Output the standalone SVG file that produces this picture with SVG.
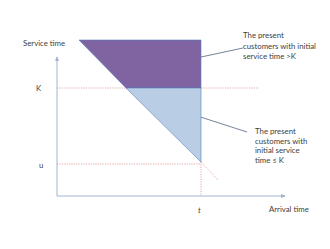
<svg xmlns="http://www.w3.org/2000/svg" width="330" height="249" viewBox="0 0 330 249">
<defs>
<style>
text{font-family:Lato,"Open Sans","Liberation Sans",sans-serif;font-size:7.8px;fill:#404040}
.ax{stroke:#A0B4D2;stroke-width:1;fill:none}
.dot{stroke:#D99694;stroke-width:0.8;stroke-dasharray:1.2 1.2;fill:none}
.lead{stroke:#3B4F6E;stroke-width:0.7;fill:none}
</style>
<marker id="ar" viewBox="0 0 6 6" refX="5" refY="3" markerWidth="5" markerHeight="5" orient="auto">
<path d="M0,0.5 L6,3 L0,5.5 z" fill="#A0B4D2"/>
</marker>
</defs>
<rect width="330" height="249" fill="#fff"/>
<g id="connectors">
<line class="ax" x1="57" y1="196" x2="57" y2="57" marker-end="url(#ar)"/>
<line class="ax" x1="57" y1="196" x2="285" y2="196" marker-end="url(#ar)"/>
<line class="dot" x1="57" y1="88" x2="259" y2="88"/>
<line class="dot" x1="57" y1="164" x2="201" y2="164"/>
<line class="dot" x1="201" y1="162" x2="201" y2="196"/>
<line class="dot" x1="201" y1="162" x2="218" y2="180"/>
<line class="lead" x1="187" y1="60" x2="243" y2="48"/>
<line class="lead" x1="185" y1="112" x2="247" y2="132"/>
</g>
<g id="upper-region">
<polygon points="79,40 201,40 201,88 126,88" fill="#8064A2" stroke="#4F81BD" stroke-width="0.6"/>
</g>
<g id="lower-region">
<polygon points="126,88 201,88 201,162" fill="#B9CDE5" stroke="#4F81BD" stroke-width="0.6"/>
</g>
<g id="labels">
<text x="23" y="46">Service time</text>
<text x="36" y="91">K</text>
<text x="39" y="168">u</text>
<text x="198" y="213" font-style="italic">t</text>
<text x="269" y="212">Arrival time</text>
</g>
<g id="note-upper">
<text x="243" y="38">The present</text>
<text x="243" y="49">customers with initial</text>
<text x="243" y="59">service time &gt;K</text>
</g>
<g id="note-lower">
<text x="255" y="134">The present</text>
<text x="255" y="143.5">customers with</text>
<text x="255" y="153">initial service</text>
<text x="255" y="163">time ≤  K</text>
</g>
</svg>
